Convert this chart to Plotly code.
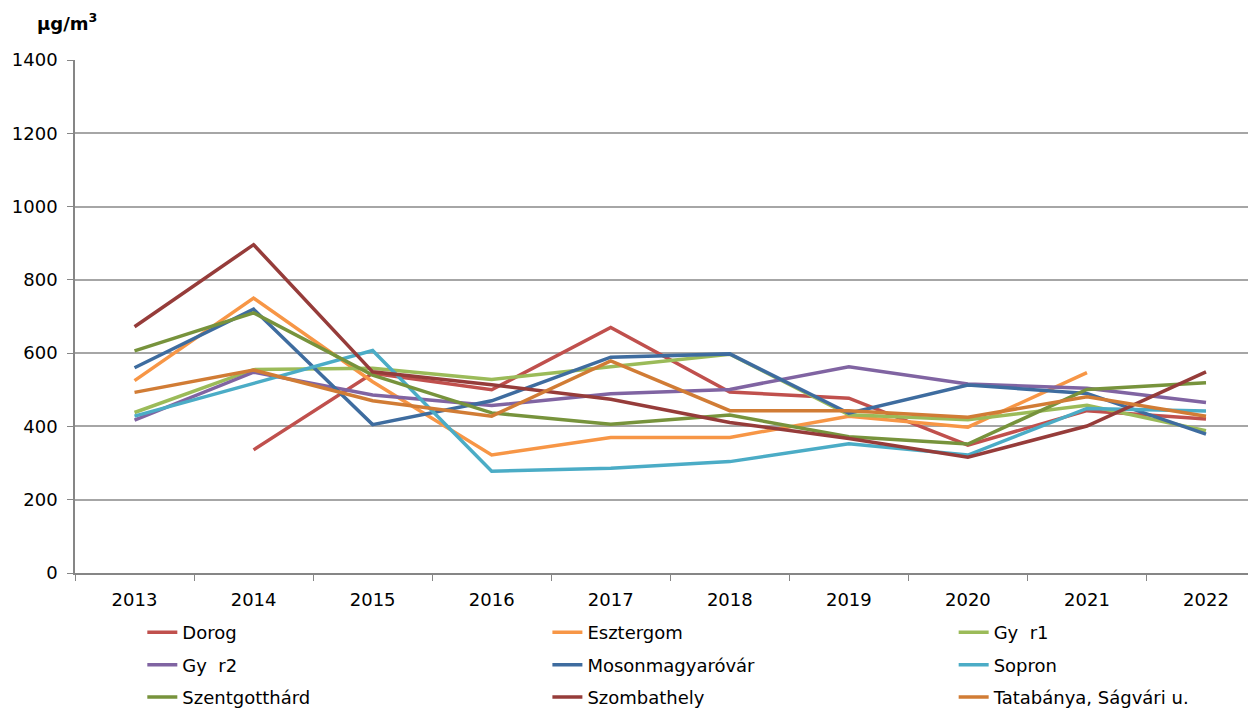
import plotly.graph_objects as go

years = ["2013", "2014", "2015", "2016", "2017", "2018", "2019", "2020", "2021", "2022"]

dorog = [None, 336, 545, 500, 670, 494, 477, 349, 443, 420]
esztergom = [525, 750, 522, 322, 370, 370, 428, 398, 547, None]
gyor1 = [438, 555, 559, 528, 563, 597, 432, 418, 458, 388]
gyor2 = [417, 548, 486, 457, 489, 501, 563, 516, 504, 465]
mosonmagyarovar = [560, 720, 405, 470, 589, 598, 436, 513, 490, 379]
sopron = [428, 518, 607, 278, 286, 304, 353, 322, 449, 442]
szentgotthard = [606, 710, 540, 437, 406, 431, 372, 352, 501, 519]
szombathely = [672, 896, 549, 514, 474, 411, 367, 316, 401, 549]
tatabanya = [493, 554, 470, 428, 579, 443, 443, 425, 481, 428]

# (name, values, colour, legend column)
series = [
    ("Dorog", dorog, "#C0504D", "legend"),
    ("Esztergom", esztergom, "#F79646", "legend2"),
    ("Gy  r1", gyor1, "#9BBB59", "legend3"),
    ("Gy  r2", gyor2, "#8064A2", "legend"),
    ("Mosonmagyaróvár", mosonmagyarovar, "#3E6C9F", "legend2"),
    ("Sopron", sopron, "#4BACC6", "legend3"),
    ("Szentgotthárd", szentgotthard, "#77933C", "legend"),
    ("Szombathely", szombathely, "#963C3A", "legend2"),
    ("Tatabánya, Ságvári u.", tatabanya, "#D17C35", "legend3"),
]

fig = go.Figure()

for name, values, color, leg in series:
    fig.add_trace(go.Scatter(
        x=years,
        y=values,
        mode="lines",
        name=name,
        legend=leg,
        legendgroup=name,
        line=dict(color=color, width=3.5),
        connectgaps=False,
    ))

font_family = "DejaVu Sans, Arial, sans-serif"

legend_style = dict(
    orientation="v",
    y=-0.08,
    yanchor="top",
    xanchor="left",
    tracegroupgap=6,
    font=dict(size=18, family=font_family),
    bgcolor="rgba(0,0,0,0)",
)

# page body has an 8px margin: figure sized so it fits the window exactly
fig.update_layout(
    width=1248,
    height=702,
    paper_bgcolor="white",
    plot_bgcolor="white",
    font=dict(family=font_family, size=18, color="black"),
    margin=dict(l=67, r=0, t=52, b=137, autoexpand=False),
    showlegend=True,
    legend=dict(x=0.057, **legend_style),
    legend2=dict(x=0.400, **legend_style),
    legend3=dict(x=0.744, **legend_style),
)

fig.update_xaxes(
    type="category",
    range=[-0.5, 9.42],
    tickson="boundaries",
    ticks="outside",
    ticklen=6,
    tickcolor="#868686",
    showline=True,
    linecolor="#868686",
    linewidth=1.5,
    showgrid=False,
    ticklabelstandoff=10,
    tickfont=dict(size=18),
)

fig.update_yaxes(
    range=[0, 1400],
    dtick=200,
    ticks="outside",
    ticklen=6,
    tickcolor="#868686",
    showline=True,
    linecolor="#868686",
    linewidth=1.5,
    showgrid=True,
    gridcolor="#A6A6A6",
    gridwidth=1.5,
    zeroline=False,
    ticklabelstandoff=6,
    tickfont=dict(size=18),
)

fig.add_annotation(
    text="<b>µg/m<sup>3</sup></b>",
    xref="paper", yref="paper",
    x=-0.007, y=1.074,
    xanchor="center", yanchor="middle",
    showarrow=False,
    font=dict(size=18, family=font_family),
)

fig.write_html("out.html")
